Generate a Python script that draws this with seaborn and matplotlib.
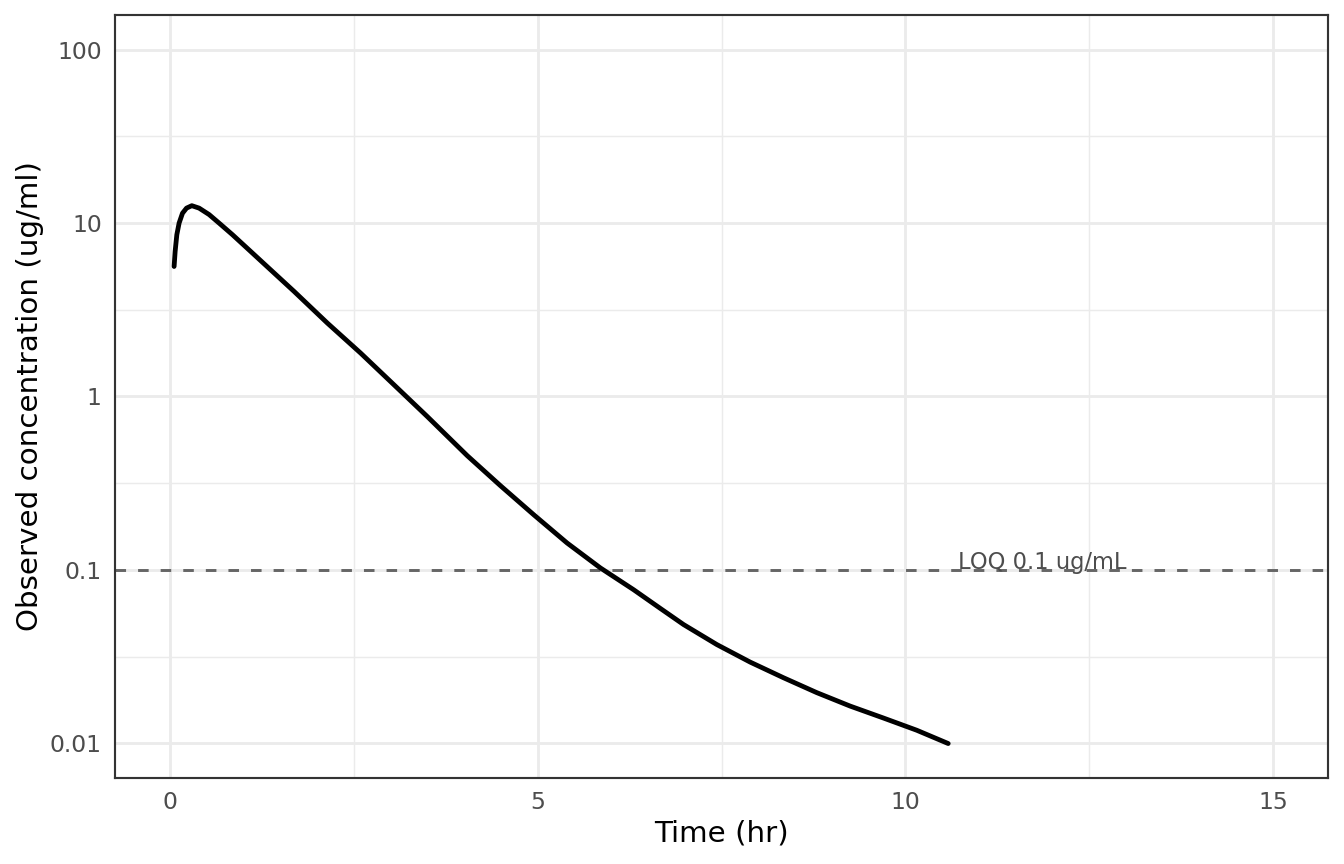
import numpy as np
import pandas as pd
import matplotlib
matplotlib.use("Agg")
import matplotlib.pyplot as plt
import matplotlib.ticker as mticker
import seaborn as sns

#%% Data

time_hr = [0.054, 0.068, 0.091, 0.122, 0.168, 0.223, 0.295, 0.394, 0.530,
           0.666, 0.848, 1.096, 1.685, 2.139,
           2.591, 3.043, 3.497, 4.041, 4.493, 4.946, 5.399, 5.852, 6.304,
           6.667, 6.984, 7.437, 7.890, 8.342, 8.796, 9.249, 9.701, 10.155,
           10.584]
conc = [5.62, 6.86, 8.57, 10.0, 11.4, 12.2, 12.6, 12.2, 11.2,
        10.0, 8.57, 6.86, 4.04, 2.65,
        1.78, 1.17, 0.767, 0.456, 0.306, 0.208, 0.143, 0.1027, 0.0769,
        0.0600, 0.0484, 0.0371, 0.0294, 0.0239, 0.0196, 0.0164, 0.0140, 0.0119,
        0.00997]

loq = 0.1
loq_label = "LOQ 0.1 ug/mL"
loq_label_x = 11.86

x_ticks = [0, 5, 10, 15]
y_ticks = [0.01, 0.1, 1, 10, 100]
y_tick_labels = ["0.01", "0.1", "1", "10", "100"]

df = pd.DataFrame({"time": time_hr, "conc": conc})

#%% Plot

sns.set_style("white")
plt.rcParams['font.family'] = ['DejaVu Sans']

grey20 = "#333333"
grey30 = "#4D4D4D"
grey92 = "#EBEBEB"

fig = plt.figure(figsize=(7, 4.5), dpi=192)
ax = fig.add_axes([115/1344, 1 - 778/864, (1328-115)/1344, (778-15)/864])

ax.set_yscale("log")
ax.set_xlim(-0.75, 15.75)
ax.set_ylim(10**-2.2, 10**2.2)

# grid like theme_bw
ax.set_xticks(x_ticks)
ax.set_xticks([2.5, 7.5, 12.5], minor=True)
ax.set_yticks(y_ticks)
ax.set_yticks([10**k for k in (-1.5, -0.5, 0.5, 1.5)], minor=True)
ax.yaxis.set_major_formatter(mticker.FixedFormatter(y_tick_labels))
ax.yaxis.set_minor_formatter(mticker.NullFormatter())
ax.grid(which="major", color=grey92, linewidth=1.07)
ax.grid(which="minor", color=grey92, linewidth=0.53)
ax.set_axisbelow(True)

ax.axhline(loq, color="#666666", linewidth=1.1, linestyle=(0, (3.6, 4.1)), zorder=2)
sns.lineplot(data=df, x="time", y="conc", ax=ax, color="black",
             linewidth=1.8, zorder=3)
ax.text(loq_label_x, loq * 1.012, loq_label, ha="center", va="baseline",
        fontsize=8.5, color=grey30, zorder=4)

for s in ax.spines.values():
    s.set_color(grey20)
    s.set_linewidth(0.8)

ax.tick_params(which="major", length=2.75, width=1.07, color=grey20,
               labelsize=8.8, labelcolor=grey30, pad=2.2)
ax.tick_params(which="minor", length=0)

ax.set_xlabel("Time (hr)", fontsize=11, color="black", labelpad=2)
ax.set_ylabel("Observed concentration (ug/ml)", fontsize=11, color="black", labelpad=2)

plt.savefig("out.png", dpi=192)
